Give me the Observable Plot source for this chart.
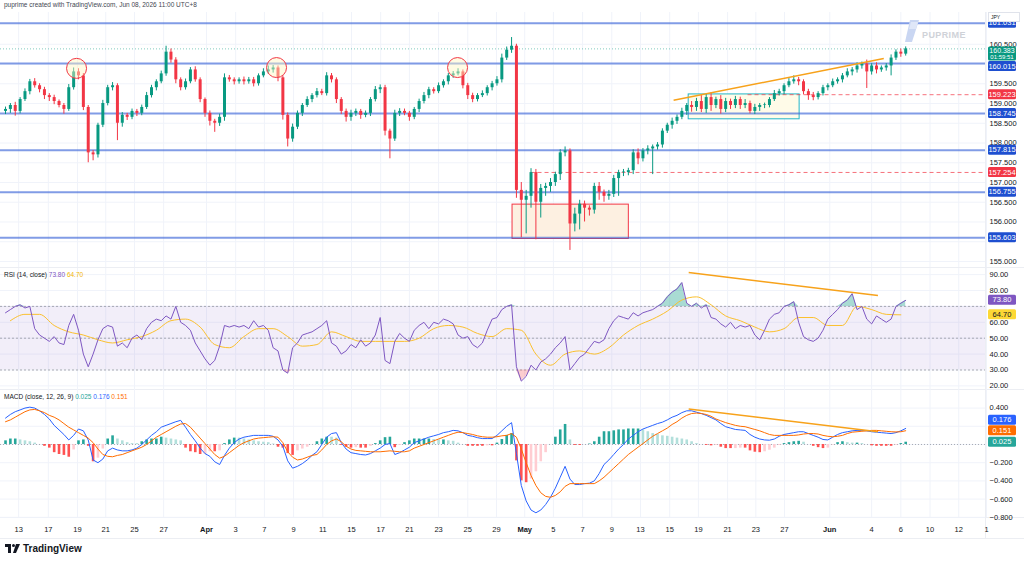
<!DOCTYPE html>
<html>
<head>
<meta charset="utf-8">
<script src="https://cdn.jsdelivr.net/npm/d3@7"></script>
<script src="https://cdn.jsdelivr.net/npm/@observablehq/plot@0.6"></script>
<style>
html,body{margin:0;padding:0;background:#fff;}
#wrap{position:relative;width:1024px;height:562px;overflow:hidden;font-family:"Liberation Sans",Arial,sans-serif;color:#131722;}
.abs{position:absolute;}
#header{left:4px;top:1px;font-size:6.5px;color:#434651;white-space:nowrap;}
.legend{font-size:6.5px;white-space:nowrap;color:#131722;}
.sep{position:absolute;left:0;width:1024px;height:1px;background:#eceef3;}
</style>
</head>
<body>
<div id="wrap">
  <div id="header" class="abs">puprime created with TradingView.com, Jun 08, 2026 11:00 UTC+8</div>
  <div class="sep" style="top:267px"></div>
  <div class="sep" style="top:389px"></div>
  <div class="sep" style="top:517px"></div>
  <div class="sep" style="top:538px"></div>
  <div class="abs" style="left:985px;top:12px;width:1px;height:526px;background:#eceef3"></div>
  <div id="main" class="abs" style="left:0;top:12px"></div>
  <div id="rsiPane" class="abs" style="left:0;top:268px"></div>
  <div id="macdPane" class="abs" style="left:0;top:390px"></div>
  <div id="rsiLegend" class="legend abs" style="left:4px;top:271px"></div>
  <div id="macdLegend" class="legend abs" style="left:4px;top:393px"></div>
  <div class="abs" style="left:988px;top:12px;width:28px;height:8px;border:1px solid #e0e3eb;background:#fff;font-size:5px;line-height:8px;padding-left:2px;box-sizing:content-box;color:#131722">JPY</div>
  <svg class="abs" style="left:902px;top:20px" width="20" height="24"><polygon points="8,0 17,0 10,22 3,22" fill="#c9d6f2"/><polygon points="9,2 16,2 14,9 7,9" fill="#dfe7f8"/></svg>
  <div class="abs" style="left:922px;top:30px;font-size:9px;font-weight:bold;color:#cfd2d8;letter-spacing:0.4px">PUPRIME</div>
  <div class="abs" style="left:5px;top:543px;display:flex;align-items:center;gap:3px">
    <svg width="15" height="9"><rect x="0" y="0" width="6" height="3" fill="#131722"/><rect x="3" y="0" width="3" height="9" fill="#131722"/><circle cx="8.5" cy="1.5" r="1.5" fill="#131722"/><polygon points="11,0 15,0 11,9 8,9" fill="#131722"/></svg>
    <span style="font-size:10px;font-weight:600;color:#131722">TradingView</span>
  </div>
</div>
<script>
// ---------------- data ----------------
const firstOpen = 158.80;
const close = [
158.85,158.95,158.80, 159.10,159.30,159.55, 159.45,159.35,159.20, 159.15,159.05,158.95,
158.85,159.40,159.80, 159.70,158.90,157.75, 157.70,158.45,159.00, 159.40,159.45,158.50,
158.70,158.65,158.80, 158.75,158.90,159.20, 159.40,159.55,159.75, 160.30,160.10,159.60,
159.40,159.55,159.85, 159.60,159.10,158.75, 158.55,158.50,158.65, 159.65,159.60,159.55,
159.60,159.55,159.60, 159.50,159.70,159.80, 159.85,159.90,159.65, 158.70,158.10,158.40,
158.75,158.95,159.10, 159.20,159.30,159.25, 159.70,159.60,159.10, 158.80,158.65,158.75,
158.80,158.70,158.75, 159.10,159.35,159.40, 158.30,158.10,158.75, 158.80,158.75,158.65,
158.85,159.05,159.20, 159.35,159.30,159.45, 159.55,159.70,159.75, 159.80,159.45,159.20,
159.10,159.20,159.25, 159.40,159.50,159.60, 160.15,160.35,160.45, 156.80,156.55,156.65,
157.25,156.50,156.85, 156.90,157.00,157.20, 157.75,157.80,155.95, 156.20,156.45,156.35,
156.30,156.90,156.75, 156.65,156.70,157.10, 157.25,157.25,157.30, 157.75,157.60,157.80,
157.85,157.90,157.95, 158.30,158.45,158.55, 158.65,158.80,158.95, 158.90,159.05,158.85,
159.15,158.95,159.10, 158.85,159.05,158.95, 159.10,158.95,159.00, 158.80,158.90,158.95,
158.95,159.10,159.25, 159.30,159.45,159.55, 159.60,159.55,159.30, 159.20,159.15,159.25,
159.40,159.45,159.55, 159.60,159.70,159.80, 159.85,159.95,160.00, 159.80,159.95,159.85,
159.90,159.95,160.15, 160.30,160.25,160.383
];
// wick lengths in hundredths of a yen (upper / lower)
const upperWick = [
6,5,8, 5,7,6, 8,5,6, 5,6,4, 5,8,10, 8,6,5, 6,5,8, 6,8,5, 7,5,6, 5,6,8, 6,5,7, 15,8,6,
5,7,6, 8,5,4, 6,5,8, 10,6,5, 5,7,6, 6,5,8, 10,6,5, 5,6,8, 6,5,7, 5,8,6, 8,6,5, 5,6,8,
6,5,6, 5,8,7, 6,5,8, 7,6,5, 5,6,8, 6,5,7, 5,6,6, 8,5,6, 6,5,7, 5,6,8, 10,8,22, 5,20,15,
10,8,10, 8,10,6, 8,10,5, 15,10,8, 6,8,10, 6,10,8, 6,8,6, 8,10,6, 8,5,6, 6,5,8, 6,8,5, 10,8,15,
8,12,6, 10,8,6, 8,6,10, 6,8,5, 6,5,8, 6,5,8, 10,6,5, 6,8,5, 6,5,7, 5,6,8, 6,8,5, 10,6,8,
5,6,8, 6,8,5
];
const lowerWick = [
8,10,12, 6,5,8, 6,8,10, 10,8,6, 12,5,6, 10,8,25, 15,8,6, 6,8,44, 10,8,6, 8,6,5, 6,8,5, 6,8,10,
8,6,5, 6,8,10, 12,23,8, 10,6,8, 6,8,6, 8,6,5, 6,8,10, 12,20,8, 6,8,5, 8,6,5, 6,8,10, 8,12,10,
8,10,6, 8,6,10, 12,50,6, 8,6,10, 6,8,6, 8,6,5, 6,8,6, 5,8,10, 8,6,5, 6,8,6, 8,6,8, 20,95,85,
30,95,40, 20,15,10, 15,10,67, 20,40,35, 15,10,20, 15,10,8, 45,10,8, 10,15,8, 10,65,8, 8,6,10, 8,6,10, 12,10,8,
10,15,8, 12,8,10, 8,10,8, 6,8,10, 8,6,5, 6,8,5, 6,10,8, 12,8,6, 6,8,5, 6,8,5, 10,8,8, 42,8,10,
6,8,25, 6,8,5
];
const rsi = [
66,68,70, 71,69,70, 56,52,50, 48,51,47, 46,58,65, 55,40,32, 40,49,56, 58,57,45, 47,44,50, 52,49,56,
60,62,61, 64,62,70, 60,58,55, 47,42,37, 33,36,45, 58,57,58, 57,58,56, 61,57,58, 55,44,42, 30,28,44,
47,52,53, 54,56,58, 61,47,45, 40,42,46, 44,49,45, 47,52,63, 36,34,48, 53,50,48, 55,58,60, 56,60,59,
62,61,59, 52,50,51, 46,44,47, 55,62,63, 68,70,71, 32,23,26, 33,30,35, 37,40,44, 47,51,30, 34,38,40,
44,48,47, 49,56,61, 64,63,62, 66,64,66, 67,68,70, 72,76,79, 81,85,72, 70,72,69, 71,63,62, 59,57,60,
56,58,57, 58,52,49, 55,62,65, 66,70,71, 73,60,51, 49,48,50, 55,62,65, 68,72,74, 78,68,70, 62,59,64,
62,60,62, 70,72,73.8
];
// RSI-based moving average, one reading per trading day
const rsiMA = [
61,65,65,58,54,52,49,47,49,51,55,61,62,57,46,44,51,56,56,51,45,46,54,51,48,48,48,48,50,56,
58,57,53,51,56,55,40,33,40,42,40,44,52,58,62,67,74,76,71,64,61,57,54,56,63,63,58,58,70,68,
65,64.7
];
const macdLine = [
0.29,0.33,0.36, 0.38,0.40,0.41, 0.40,0.37,0.33, 0.28,0.21,0.16, 0.11,0.05,0.10, 0.17,0.15,0.05,
-0.17,-0.20,-0.16, -0.07,-0.04,-0.06, -0.07,-0.07,-0.06, -0.04,0.00,0.05, 0.10,0.14,0.19, 0.21,0.23,0.25,
0.265,0.19,0.11, 0.04,-0.04,-0.10, -0.13,-0.19,-0.22, -0.12,-0.04,0.02, 0.06,0.08,0.09, 0.10,0.10,0.10,
0.10,0.09,0.05, -0.02,-0.18,-0.26, -0.24,-0.21,-0.17, -0.12,-0.08,0.00, 0.08,0.12,0.13, 0.02,-0.05,-0.09,
-0.10,-0.11,-0.115, -0.10,-0.07,-0.04, 0.00,0.01,-0.11, -0.09,-0.06,-0.03, 0.02,0.04,0.06, 0.08,0.095,0.11,
0.13,0.14,0.155, 0.15,0.13,0.10, 0.09,0.075,0.065, 0.065,0.065,0.10, 0.15,0.20,0.24, -0.10,-0.45,-0.62,
-0.72,-0.75,-0.72, -0.66,-0.58,-0.48, -0.36,-0.24,-0.38, -0.44,-0.44,-0.43, -0.425,-0.40,-0.32, -0.22,-0.17,-0.11,
-0.05,0.00,0.06, 0.10,0.14,0.17, 0.19,0.21,0.23, 0.245,0.27,0.30, 0.32,0.35,0.37, 0.37,0.355,0.34,
0.32,0.295,0.27, 0.23,0.195,0.18, 0.165,0.16,0.155, 0.11,0.08,0.06, 0.05,0.047,0.06, 0.09,0.11,0.12,
0.13,0.14,0.14, 0.12,0.10,0.08, 0.055,0.05,0.08, 0.11,0.13,0.14, 0.15,0.155,0.155, 0.15,0.14,0.135,
0.13,0.125,0.12, 0.13,0.15,0.176
];
const signalLine = [
0.25,0.27,0.30, 0.33,0.36,0.38, 0.385,0.37,0.35, 0.32,0.30,0.27, 0.23,0.19,0.16, 0.13,0.10,0.07,
0.02,-0.05,-0.11, -0.13,-0.135,-0.12, -0.11,-0.09,-0.07, -0.05,-0.03,0.00, 0.04,0.08,0.11, 0.14,0.17,0.20,
0.225,0.23,0.19, 0.13,0.07,0.01, -0.05,-0.11,-0.15, -0.13,-0.09,-0.05, -0.01,0.02,0.04, 0.06,0.07,0.075,
0.08,0.085,0.08, 0.02,-0.08,-0.14, -0.17,-0.16,-0.14, -0.12,-0.11,-0.06, 0.00,0.04,0.06, 0.03,-0.02,-0.05,
-0.065,-0.07,-0.075, -0.08,-0.08,-0.08, -0.075,-0.07,-0.075, -0.08,-0.08,-0.07, -0.04,-0.02,0.00, 0.02,0.04,0.06,
0.08,0.10,0.12, 0.135,0.13,0.12, 0.11,0.095,0.085, 0.08,0.08,0.085, 0.095,0.10,0.12, 0.08,-0.05,-0.20,
-0.34,-0.45,-0.53, -0.57,-0.58,-0.56, -0.52,-0.46,-0.43, -0.43,-0.43,-0.43, -0.43,-0.43,-0.40, -0.36,-0.31,-0.26,
-0.21,-0.16,-0.11, -0.07,-0.03,0.01, 0.05,0.09,0.12, 0.15,0.18,0.22, 0.25,0.29,0.32, 0.34,0.345,0.34,
0.33,0.31,0.28, 0.26,0.24,0.225, 0.21,0.20,0.195, 0.18,0.165,0.15, 0.13,0.11,0.10, 0.10,0.10,0.10,
0.10,0.105,0.115, 0.12,0.12,0.115, 0.10,0.09,0.085, 0.09,0.10,0.12, 0.135,0.14,0.145, 0.15,0.155,0.155,
0.15,0.145,0.14, 0.138,0.14,0.151
];
// horizontal levels
const supportLevels = [161.031, 160.015, 158.745, 157.815, 156.755, 155.603];
const dashedLevels = [{price: 159.223, fromBar: 152.5}, {price: 157.254, fromBar: 107.9}];
// annotations (bar index / price)
const circleMarks = [{bar: 14.6, price: 159.89}, {bar: 55.7, price: 159.91}, {bar: 92.9, price: 159.91}];
const redZone = {bar1: 104.2, bar2: 128.1, p1: 155.57, p2: 156.44};
const rangeZone = {bar1: 140.4, bar2: 163.2, p1: 158.60, p2: 159.23};
const priceTrend = {bar1: 137.3, p1: 159.08, bar2: 180.5, p2: 160.14};
const rsiTrend = {bar1: 140.4, v1: 91.3, bar2: 179.3, v2: 76.9};
const macdTrend = {bar1: 140.4, v1: 0.39, bar2: 179.3, v2: 0.14};
// axes
const priceGrid = [155, 155.5, 156, 156.5, 157, 157.5, 158, 158.5, 159, 159.5, 160, 160.5];
const priceTickLabels = [155, 156, 156.5, 157, 157.5, 158, 158.5, 159, 159.5, 160.5];
const rsiGrid = [20, 30, 40, 50, 60, 70, 80, 90];
const rsiTickLabels = [20, 30, 40, 50, 60, 80, 90];
const macdGrid = [-0.8, -0.6, -0.4, -0.2, 0, 0.2, 0.4];
const macdTickLabels = [-0.8, -0.6, -0.4, -0.2, 0.4];
const tickLabels = ["13","17","19","21","25","27","Apr","3","7","9","11","15","17","21","23","25","29",
  "May","5","7","9","13","15","19","21","23","27","Jun","4","6","10","12","1"];
const tickBars = [2.7,8.8,14.8,20.6,26.5,32.5,41.3,47.3,53.2,59.2,65.2,71.1,77.1,83.0,89.0,95.0,100.9,
  106.7,112.6,118.6,124.6,130.5,136.5,142.4,148.4,154.2,160.1,169.4,178.0,184.0,190.0,195.9,201.6];
const countdown = "01:59:51";

// ---------------- build ----------------
const UP = "#089981", DN = "#f23645";
const xDomain = [-1.03, 201.4];
const W = 1024, MR = 39;
const fmt3 = d3.format(".3f"), fmt2 = d3.format(".2f");
const baseStyle = {fontFamily: "Liberation Sans, Arial, sans-serif", fontSize: "7.5px", overflow: "visible", background: "transparent"};

const candles = close.map((c, i) => {
  const o = i ? close[i - 1] : firstOpen;
  return {i, o, c, h: Math.max(o, c) + upperWick[i] / 100, l: Math.min(o, c) - lowerWick[i] / 100};
});
const xTicks = tickLabels.map((label, k) => ({label, bar: tickBars[k], month: ["Apr", "May", "Jun"].includes(label)}));

// price tag in the right margin; top = box top in px, returns box bottom
function tagBox(svg, top, lines, bg, fg) {
  const g = d3.select(svg).append("g");
  const two = lines.length > 1;
  const h = two ? 14 : 10;
  g.append("rect").attr("x", 988).attr("y", top).attr("width", 28).attr("height", h).attr("rx", 1.5).attr("fill", bg);
  lines.forEach((t, k) => g.append("text").attr("x", 1002).attr("y", two ? top + 3.8 + k * 6.8 : top + 5).attr("dy", "0.35em")
    .attr("text-anchor", "middle").attr("fill", fg).attr("font-size", k ? 6 : (two ? 7 : 7.5))
    .attr("font-family", "Liberation Sans, Arial, sans-serif").text(t));
  return top + h;
}
function tag(svg, y, lines, bg, fg) { return tagBox(svg, y - 5, lines, bg, fg); }

// main price pane
const mainPlot = Plot.plot({
  width: W, height: 255, marginTop: 0, marginBottom: 0, marginLeft: 0, marginRight: MR,
  style: baseStyle,
  x: {domain: xDomain, axis: null},
  y: {domain: [154.848, 161.304]},
  color: {type: "identity"},
  marks: [
    Plot.ruleX(tickBars, {stroke: "#f0f3fa"}),
    Plot.ruleY(priceGrid, {stroke: "#f0f3fa"}),
    Plot.rect([redZone], {x1: "bar1", x2: "bar2", y1: "p1", y2: "p2", fill: "#fdf0e1", stroke: "#f23645", strokeWidth: 1}),
    Plot.rect([rangeZone], {x1: "bar1", x2: "bar2", y1: "p1", y2: "p2", fill: "#fffbe8", stroke: "#22b5c7", strokeWidth: 1}),
    Plot.ruleY(supportLevels, {stroke: "#3d67d9", strokeOpacity: 0.65, strokeWidth: 2}),
    Plot.ruleY([close[close.length - 1]], {stroke: UP, strokeOpacity: 0.5, strokeDasharray: "1,2"}),
    Plot.link(dashedLevels, {x1: "fromBar", x2: () => xDomain[1], y1: "price", y2: "price", stroke: DN, strokeOpacity: 0.7, strokeDasharray: "4,3"}),
    Plot.ruleX(candles, {x: "i", y1: "l", y2: "h", stroke: d => d.c >= d.o ? UP : DN, strokeWidth: 1}),
    Plot.ruleX(candles, {x: "i", y1: "o", y2: d => d.c === d.o ? d.c + 0.015 : d.c, stroke: d => d.c >= d.o ? UP : DN, strokeWidth: 3}),
    Plot.dot(circleMarks, {x: "bar", y: "price", r: 10, fill: "#fff7c2", fillOpacity: 0.45, stroke: DN, strokeWidth: 1}),
    Plot.link([priceTrend], {x1: "bar1", y1: "p1", x2: "bar2", y2: "p2", stroke: "#f7a21b", strokeWidth: 1.5}),
    Plot.axisY({anchor: "right", ticks: priceTickLabels, tickSize: 0, tickPadding: 4, tickFormat: fmt3, label: null, fill: "#131722"})
  ]
});
document.getElementById("main").append(mainPlot);
{
  const ys = mainPlot.scale("y");
  const last = close[close.length - 1];
  const lastTop = ys.apply(last) - 1.9;
  const lastBottom = lastTop + 14;
  supportLevels.forEach(p => {
    let top = ys.apply(p) - 5;
    if (top < lastBottom + 0.5 && top + 10 > lastTop) top = lastBottom + 0.5;
    tagBox(mainPlot, top, [fmt3(p)], "#1e4fd0", "#fff");
  });
  dashedLevels.forEach(d => tag(mainPlot, ys.apply(d.price), [fmt3(d.price)], "#f23645", "#fff"));
  tagBox(mainPlot, lastTop, [fmt3(last), countdown], "#089981", "#fff");
}

// RSI pane
const rsiPlot = Plot.plot({
  width: W, height: 122, marginTop: 0, marginBottom: 0, marginLeft: 0, marginRight: MR,
  style: baseStyle,
  x: {domain: xDomain, axis: null},
  y: {domain: [17.1, 93.84]},
  color: {type: "identity"},
  marks: [
    Plot.ruleX(tickBars, {stroke: "#f0f3fa"}),
    Plot.ruleY(rsiGrid, {stroke: "#f0f3fa"}),
    Plot.rect([0], {x1: xDomain[0], x2: xDomain[1], y1: 30, y2: 70, fill: "#7e57c2", fillOpacity: 0.1}),
    Plot.ruleY([70, 50, 30], {stroke: "#9598a1", strokeOpacity: 0.8, strokeDasharray: "2,2"}),
    Plot.areaY(rsi, {x: (d, i) => i, y1: 70, y2: d => Math.max(d, 70), fill: "#089981", fillOpacity: 0.35}),
    Plot.areaY(rsi, {x: (d, i) => i, y1: d => Math.min(d, 30), y2: 30, fill: "#f23645", fillOpacity: 0.25}),
    Plot.line(rsiMA, {x: (d, i) => 3 * i + 1, y: d => d, stroke: "#fbc02d", strokeWidth: 1, curve: "monotone-x"}),
    Plot.line(rsi, {x: (d, i) => i, y: d => d, stroke: "#7e57c2", strokeWidth: 1}),
    Plot.link([rsiTrend], {x1: "bar1", y1: "v1", x2: "bar2", y2: "v2", stroke: "#f7a21b", strokeWidth: 1.5}),
    Plot.axisY({anchor: "right", ticks: rsiTickLabels, tickSize: 0, tickPadding: 4, tickFormat: fmt2, label: null, fill: "#131722"})
  ]
});
document.getElementById("rsiPane").append(rsiPlot);
{
  const ys = rsiPlot.scale("y");
  const r = rsi[rsi.length - 1], m = rsiMA[rsiMA.length - 1];
  tag(rsiPlot, ys.apply(r), [fmt2(r)], "#7e57c2", "#fff");
  tag(rsiPlot, ys.apply(m), [fmt2(m)], "#fdd835", "#131722");
  document.getElementById("rsiLegend").innerHTML =
    `RSI (14, close) <span style="color:#7e57c2">${fmt2(r)}</span> <span style="color:#f2b705">${fmt2(m)}</span>`;
}

// MACD pane
const hist = macdLine.map((v, i) => ({i, h: v - signalLine[i]}));
hist.forEach((d, i) => {
  const prev = i ? hist[i - 1].h : d.h;
  d.col = d.h >= 0 ? (d.h >= prev ? "#26a69a" : "#b2dfdb") : (d.h <= prev ? "#ff5252" : "#ffcdd2");
});
const macdPlot = Plot.plot({
  width: W, height: 152, marginTop: 0, marginBottom: 25, marginLeft: 0, marginRight: MR,
  style: baseStyle,
  x: {domain: xDomain, axis: null},
  y: {domain: [-0.802, 0.593]},
  color: {type: "identity"},
  marks: [
    Plot.ruleX(tickBars, {stroke: "#f0f3fa"}),
    Plot.ruleY(macdGrid, {stroke: "#f0f3fa"}),
    Plot.ruleY([0], {stroke: "#9598a1", strokeOpacity: 0.8, strokeDasharray: "1,2"}),
    Plot.ruleX(hist, {x: "i", y1: 0, y2: "h", stroke: "col", strokeWidth: 2.6}),
    Plot.line(macdLine, {x: (d, i) => i, y: d => d, stroke: "#2962ff", strokeWidth: 1}),
    Plot.line(signalLine, {x: (d, i) => i, y: d => d, stroke: "#ff6d00", strokeWidth: 1}),
    Plot.link([macdTrend], {x1: "bar1", y1: "v1", x2: "bar2", y2: "v2", stroke: "#f7a21b", strokeWidth: 1.5}),
    Plot.axisY({anchor: "right", ticks: macdTickLabels, tickSize: 0, tickPadding: 4, tickFormat: fmt3, label: null, fill: "#131722"}),
    Plot.text(xTicks.filter(t => !t.month), {x: "bar", text: "label", frameAnchor: "bottom", dy: 14, fontSize: 7.5, fill: "#131722"}),
    Plot.text(xTicks.filter(t => t.month), {x: "bar", text: "label", frameAnchor: "bottom", dy: 14, fontSize: 7.5, fontWeight: "bold", fill: "#131722"})
  ]
});
document.getElementById("macdPane").append(macdPlot);
{
  const ys = macdPlot.scale("y");
  const mL = macdLine[macdLine.length - 1], sL = signalLine[signalLine.length - 1];
  const hL = +(mL - sL).toFixed(3);
  const items = [
    {v: mL, c: "#2962ff", y: ys.apply(mL)},
    {v: sL, c: "#ff6d00", y: ys.apply(sL)},
    {v: hL, c: "#26a69a", y: ys.apply(hL)}
  ].sort((a, b) => b.y - a.y);
  for (let k = 1; k < items.length; k++) if (items[k - 1].y - items[k].y < 10) items[k].y = items[k - 1].y - 10.5;
  items.forEach(it => tag(macdPlot, it.y, [fmt3(it.v)], it.c, "#fff"));
  document.getElementById("macdLegend").innerHTML =
    `MACD (close, 12, 26, 9) <span style="color:#26a69a">${fmt3(hL)}</span> <span style="color:#2962ff">${fmt3(mL)}</span> <span style="color:#ff6d00">${fmt3(sL)}</span>`;
}
</script>
</body>
</html>
